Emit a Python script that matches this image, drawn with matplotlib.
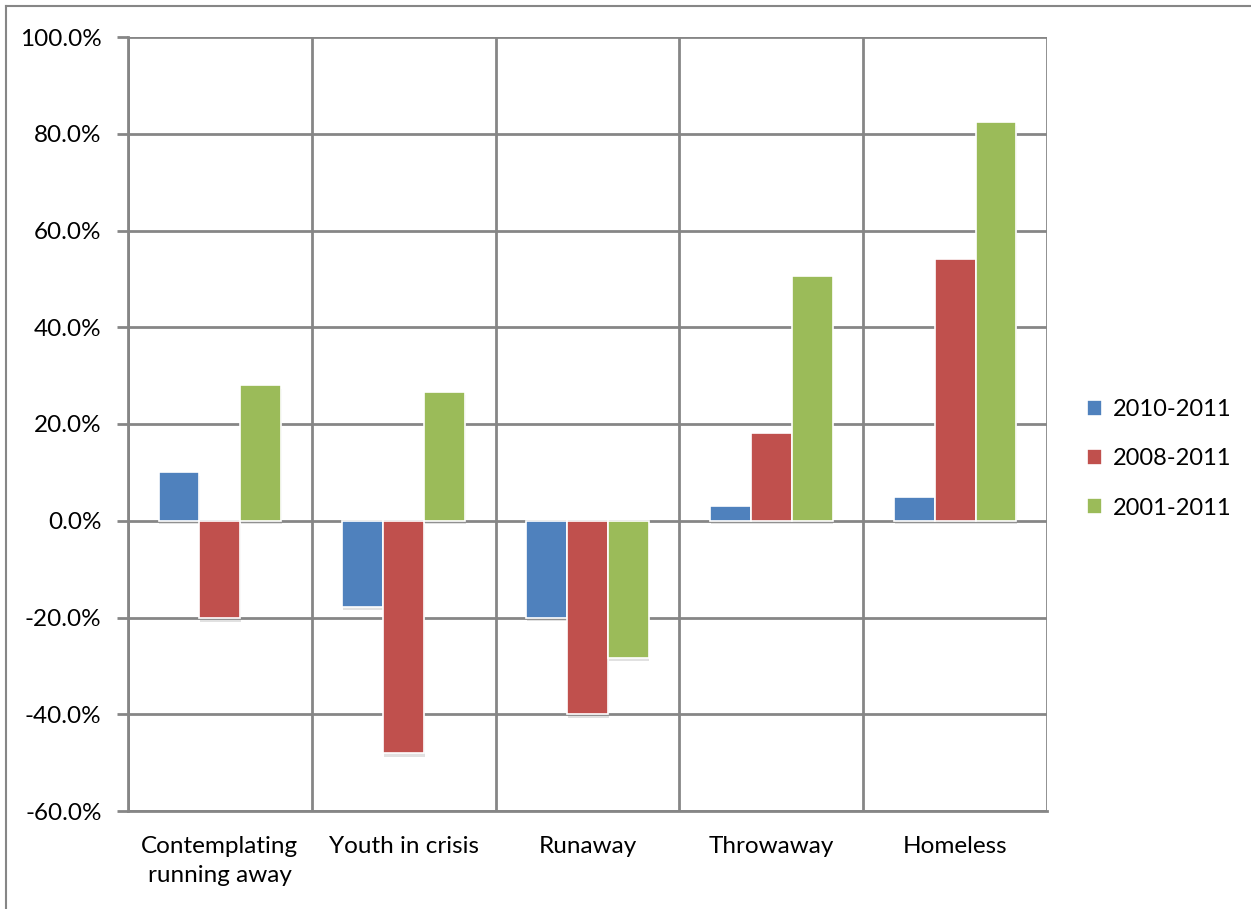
import numpy as np
import matplotlib
matplotlib.use("Agg")
import matplotlib.pyplot as plt
import matplotlib.patheffects as pe
from matplotlib.lines import Line2D
from matplotlib.ticker import FuncFormatter

plt.rcParams['font.family'] = ['Lato', 'DejaVu Sans']

categories = ['Contemplating\nrunning away', 'Youth in crisis', 'Runaway',
              'Throwaway', 'Homeless']
series_names = ['2010-2011', '2008-2011', '2001-2011']
change_2010 = [10.0, -17.8, -20.0, 3.0, 5.0]
change_2008 = [-20.2, -48.1, -40.0, 18.2, 54.1]
change_2001 = [28.0, 26.7, -28.3, 50.6, 82.4]
colors = ['#4F81BD', '#C0504D', '#9BBB59']
grid_color = '#868686'


def main():
    fig = plt.figure(figsize=(12.51, 9.09), dpi=100)
    ax = fig.add_axes([128 / 1251, 1 - 811 / 909, (1047 - 128) / 1251, (811 - 37) / 909])

    x = np.arange(len(categories))
    width = 1 / 4.5  # gap width 150%
    shadow = [pe.SimplePatchShadow(offset=(0.5, -2.5), shadow_rgbFace='#8a8a8a', alpha=0.25),
              pe.Normal()]
    for i, (vals, name) in enumerate(zip([change_2010, change_2008, change_2001], series_names)):
        bars = ax.bar(x + (i - 1) * width, vals, width, color=colors[i], edgecolor='white',
                      linewidth=1.2, label=name, zorder=3)
        for b in bars:
            b.set_path_effects(shadow)

    ax.set_xlim(-0.5, len(categories) - 0.5)
    ax.set_ylim(-60, 100)
    ax.set_yticks(np.arange(-60, 101, 20))
    ax.yaxis.set_major_formatter(FuncFormatter(lambda v, p: '%.1f%%' % v))
    ax.set_xticks(x)
    ax.set_xticklabels(categories, fontsize=17.5, linespacing=1.45)
    ax.set_xticks(np.arange(-0.5, len(categories), 1), minor=True)

    ax.grid(axis='y', color=grid_color, linewidth=2, zorder=0)
    ax.grid(axis='x', which='minor', color=grid_color, linewidth=2, zorder=0)
    ax.tick_params(axis='y', length=8, width=2, color=grid_color, pad=11, labelsize=17.5)
    ax.tick_params(axis='x', which='both', length=0, pad=18)
    for s in ['top', 'right']:
        ax.spines[s].set_visible(False)
    for s in ['left', 'bottom']:
        ax.spines[s].set_color(grid_color)
        ax.spines[s].set_linewidth(2)

    leg = ax.legend(loc='center left', bbox_to_anchor=(1.02, 0.455), frameon=False, fontsize=17,
                    handlelength=0.65, handleheight=0.65, handletextpad=0.45, labelspacing=1.2)
    for h in leg.legend_handles:
        h.set_path_effects([])

    # chart area border
    fig.add_artist(Line2D([6 / 1251, 1], [1 - 6 / 909, 1 - 6 / 909], color=grid_color, linewidth=1.5))
    fig.add_artist(Line2D([6 / 1251, 6 / 1251], [0, 1 - 6 / 909], color=grid_color, linewidth=1.5))

    fig.savefig('out.png', dpi=100, facecolor='white')


if __name__ == '__main__':
    main()
